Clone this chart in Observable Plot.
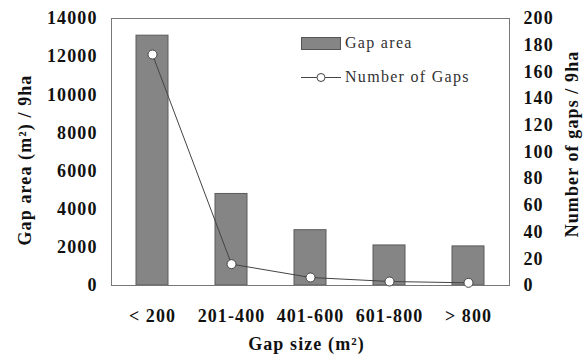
<!DOCTYPE html>
<html>
<head>
<meta charset="utf-8">
<script src="https://cdn.jsdelivr.net/npm/d3@7"></script>
<script src="https://cdn.jsdelivr.net/npm/@observablehq/plot@0.6"></script>
<style>
  html, body { margin: 0; padding: 0; background: #fff; font-family: serif; }
</style>
</head>
<body>
<div id="root"></div>
<script>
const categories = ["< 200", "201-400", "401-600", "601-800", "> 800"];
const gapArea = [13100, 4800, 2900, 2100, 2050];
const gapCount = [173, 16, 6, 3, 2];
const leftTicks = [0, 2000, 4000, 6000, 8000, 10000, 12000, 14000];
const rightTicks = [0, 20, 40, 60, 80, 100, 120, 140, 160, 180, 200];
const legendLabels = ["Gap area", "Number of Gaps"];

const ratio = 14000 / 200;
const data = categories.map((c, i) => ({cat: c, area: gapArea[i], count: gapCount[i], countScaled: gapCount[i] * ratio}));

const ff = "serif";
const txt = {fontFamily: ff, fontWeight: "bold", fontSize: 18, fill: "#111"};

function render() {
  const chart = Plot.plot({
    width: 585,
    height: 363,
    marginLeft: 111,
    marginRight: 76,
    marginTop: 18,
    marginBottom: 78,
    style: {background: "#fff", letterSpacing: "1.1px", fontFamily: ff, fontSize: "18px"},
    x: {domain: categories, paddingInner: 0.597, paddingOuter: 0.3, label: null},
    y: {domain: [0, 14000], label: null},
    marks: [
      Plot.barY(data, {x: "cat", y: "area", fill: "#858585", stroke: "#5a5a5a", strokeWidth: 1}),
      Plot.frame({stroke: "#777", strokeWidth: 1}),
      Plot.line(data, {x: "cat", y: "countScaled", stroke: "#444", strokeWidth: 1}),
      Plot.dot(data, {x: "cat", y: "countScaled", r: 4.5, fill: "#fff", stroke: "#444", strokeWidth: 1}),
      Plot.axisY({...txt, ticks: leftTicks, tickFormat: d3.format("d"), tickSize: 0, tickPadding: 14, label: null, anchor: "left"}),
      Plot.axisY({...txt, ticks: rightTicks.map(d => d * ratio), tickFormat: d => String(Math.round(d / ratio)), tickSize: 0, tickPadding: 14, label: null, anchor: "right"}),
      Plot.axisX({...txt, tickSize: 0, tickPadding: 24, label: null}),
      Plot.text(["Gap area (m²) / 9ha"], {...txt, frameAnchor: "left", textAnchor: "middle", dx: -86, dy: 8, rotate: -90}),
      Plot.text(["Number of gaps / 9ha"], {...txt, frameAnchor: "right", textAnchor: "middle", dx: 63, dy: -8, rotate: -90}),
      Plot.text(["Gap size (m²)"], {...txt, frameAnchor: "bottom", textAnchor: "middle", dy: 64, dx: -4})
    ]
  });

  const wrap = document.createElement("div");
  wrap.style.cssText = "position:relative;width:585px;height:363px;";
  wrap.appendChild(chart);

  const legend = document.createElement("div");
  legend.style.cssText = "position:absolute;left:301px;top:36px;font-family:serif;font-size:16px;letter-spacing:1.3px;color:#333;line-height:1;";
  const swatches = [
    '<svg width="40" height="13" style="margin-right:4px"><rect x="0.5" y="0.5" width="39" height="12" fill="#858585" stroke="#555"/></svg>',
    '<svg width="40" height="13" style="margin-right:4px"><line x1="0" y1="6.5" x2="40" y2="6.5" stroke="#444" stroke-width="1"/><circle cx="20" cy="6.5" r="4" fill="#fff" stroke="#444"/></svg>'
  ];
  legendLabels.forEach((label, i) => {
    const row = document.createElement("div");
    row.style.cssText = "display:flex;align-items:center;height:14px;" + (i === 0 ? "margin-bottom:20px;" : "");
    row.innerHTML = swatches[i];
    const span = document.createElement("span");
    span.textContent = label;
    span.style.fontFamily = "serif";
    row.appendChild(span);
    legend.appendChild(row);
  });
  wrap.appendChild(legend);
  document.getElementById("root").replaceChildren(wrap);
}

render();
</script>
</body>
</html>
